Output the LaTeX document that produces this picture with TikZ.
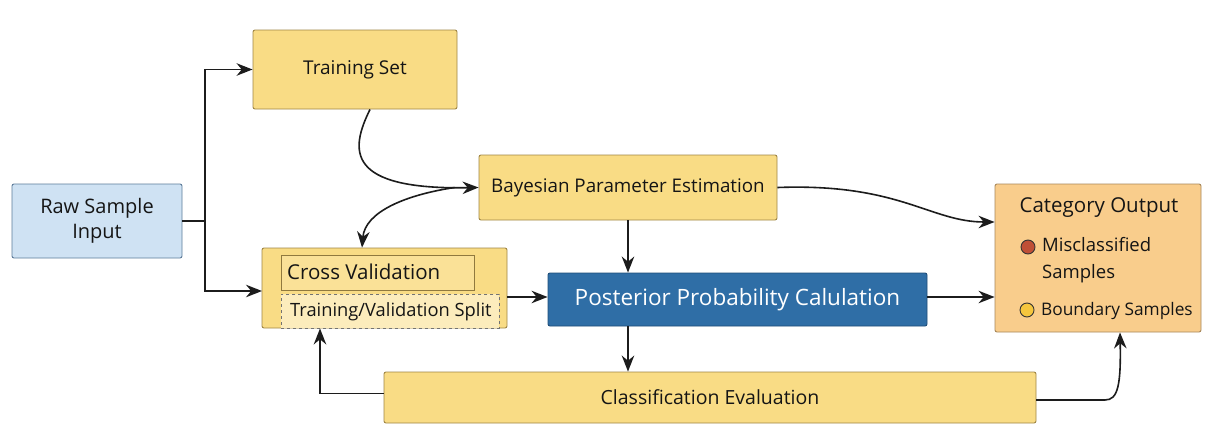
\documentclass[tikz,border=0pt]{standalone}
\usepackage{fontspec}
\setmainfont{Open Sans}
\usetikzlibrary{arrows.meta}
\definecolor{ylfill}{HTML}{F9DC85}
\definecolor{yldraw}{HTML}{A08645}
\definecolor{blfill}{HTML}{CFE2F3}
\definecolor{bldraw}{HTML}{5D7C9A}
\definecolor{dbfill}{HTML}{2F6EA6}
\definecolor{dbdraw}{HTML}{1F4D78}
\definecolor{orfill}{HTML}{F9CD8C}
\definecolor{ordraw}{HTML}{A8875A}
\definecolor{linec}{HTML}{1C1C1C}
\definecolor{txt}{HTML}{151515}
\definecolor{redc}{HTML}{BF4F36}
\definecolor{yelc}{HTML}{F5C63E}
\tikzset{
  box/.style={draw, rounded corners=2pt, line width=0.9pt, inner sep=0pt, align=center, text=txt},
  ybox/.style={box, fill=ylfill, draw=yldraw},
  conn/.style={line width=1.6pt, draw=linec},
  arr/.style={conn, -{Stealth[length=16pt,width=12.5pt]}},
}
\begin{document}
\begin{tikzpicture}[x=1pt,y=-1pt]
\useasboundingbox[fill=white] (0,0) rectangle (1210,439);
% nodes
\node[box, fill=blfill, draw=bldraw, minimum width=170pt, minimum height=74pt, font=\fontsize{20}{25}\selectfont] (raw) at (97,221) {Raw Sample\\Input};
\node[ybox, minimum width=204pt, minimum height=79pt, font=\fontsize{19}{22}\selectfont] (ts) at (355,69.5) {Training Set};
\node[ybox, minimum width=298pt, minimum height=65pt, font=\fontsize{18.8}{22}\selectfont] (bpe) at (628,187.5) {Bayesian Parameter Estimation};
\node[ybox, minimum width=245pt, minimum height=80pt] (cv) at (384.5,288) {};
\node[draw=yldraw!90!black, fill=ylfill!85!white, line width=0.8pt, minimum width=193pt, minimum height=35pt, inner sep=0pt, anchor=north west] (cvt) at (281,255) {};
\node[font=\fontsize{20.5}{24}\selectfont, text=txt, anchor=west, inner sep=0pt] (cvtt) at (287,272) {Cross Validation};
\node[draw=black!55, dashed, fill=ylfill!55!white, line width=0.8pt, minimum width=218pt, minimum height=34pt, inner sep=0pt, anchor=north west] (tvs) at (281,294) {};
\node[font=\fontsize{18.3}{22}\selectfont, text=txt, anchor=west, inner sep=0pt] (tvst) at (290,312) {Training/Validation Split};
\node[box, fill=dbfill, draw=dbdraw, text=white, minimum width=379pt, minimum height=53pt, font=\fontsize{22.5}{26}\selectfont] (pp) at (737.5,299.5) {Posterior Probability Calulation};
\node[box, fill=orfill, draw=ordraw, minimum width=206pt, minimum height=148pt] (cat) at (1098,258) {};
\node[font=\fontsize{20.5}{24}\selectfont, text=txt] (catt) at (1099,208) {Category Output};
\node[circle, draw=black!80, fill=redc, line width=0.9pt, minimum size=14pt, inner sep=0pt] (c1) at (1028,247) {};
\node[font=\fontsize{18.5}{27}\selectfont, text=txt, align=left, anchor=west, inner sep=0pt] (m1) at (1042,260) {Misclassified\\Samples};
\node[circle, draw=black!80, fill=yelc, line width=0.9pt, minimum size=14pt, inner sep=0pt] (c2) at (1027,310) {};
\node[font=\fontsize{17.3}{21}\selectfont, text=txt, anchor=west, inner sep=0pt] (m2) at (1041,311) {Boundary Samples};
\node[ybox, minimum width=652pt, minimum height=51pt, font=\fontsize{19.5}{23}\selectfont] (ce) at (710,397.5) {Classification Evaluation};
% junction
\coordinate (j) at (205,221);
\coordinate (cvin) at (262,291);
\draw[conn] (raw.east) -- (j);
\draw[arr] (j) |- (ts.west);
\draw[arr] (j) |- (cvin);
% training -> bayes
\draw[arr] ([xshift=15pt]ts.south) .. controls (350,150) and (345,190) .. (bpe.west);
% bayes -> cv
\draw[arr] ([xshift=-24pt]bpe.west) .. controls (405,195) and (365,212) .. ([xshift=-22.5pt]cv.north);
% bayes -> category
\draw[arr] (bpe.east) .. controls (900,183) and (930,222) .. ([yshift=36pt]cat.west);
% bayes -> posterior
\draw[arr] (bpe.south) -- (pp.north -| bpe.south);
% cv -> posterior
\draw[arr] ([yshift=-9pt]cv.east) -- ([yshift=2.5pt]pp.west);
% posterior -> category
\draw[arr] ([yshift=2.5pt]pp.east) -- ([yshift=-39pt]cat.west);
% posterior -> evaluation
\draw[arr] (pp.south -| bpe.south) -- (ce.north -| bpe.south);
% evaluation -> cv
\draw[arr] ([yshift=4pt]ce.west) -| ([xshift=-64.5pt]cv.south);
% evaluation -> category
\coordinate (cr) at (1105,400);
\draw[conn] ([yshift=-2.5pt]ce.east) -- (cr);
\draw[arr] (cr) .. controls (1118,400) and (1121,385) .. ([xshift=22pt]cat.south);
\end{tikzpicture}
\end{document}
